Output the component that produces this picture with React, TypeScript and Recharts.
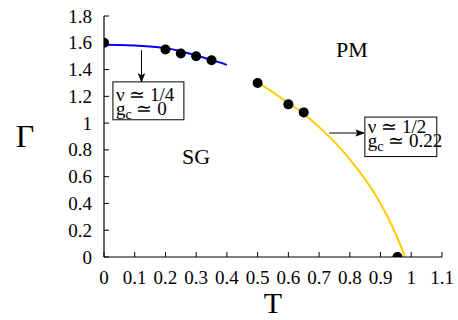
import React from 'react';
import {
  ComposedChart,
  Line,
  Scatter,
  XAxis,
  YAxis,
  ReferenceArea,
  ReferenceLine,
  ReferenceDot,
  Label,
} from 'recharts';

// ---- data ----
const xTicks = [0, 0.1, 0.2, 0.3, 0.4, 0.5, 0.6, 0.7, 0.8, 0.9, 1, 1.1];
const yTicks = [0, 0.2, 0.4, 0.6, 0.8, 1, 1.2, 1.4, 1.6, 1.8];

const pointT = [0, 0.2, 0.25, 0.3, 0.35, 0.5, 0.6, 0.65, 0.955];
const pointGamma = [1.6, 1.55, 1.52, 1.5, 1.47, 1.3, 1.14, 1.08, 0];

const lowCurveT = [0, 0.05, 0.1, 0.15, 0.2, 0.25, 0.3, 0.35, 0.4];
const lowCurveGamma = [1.585, 1.584, 1.58, 1.572, 1.56, 1.537, 1.505, 1.472, 1.435];

const highCurveT = [0.5, 0.55, 0.6, 0.65, 0.7, 0.75, 0.8, 0.85, 0.9, 0.95, 0.98];
const highCurveGamma = [1.305, 1.23, 1.15, 1.07, 0.97, 0.86, 0.73, 0.58, 0.4, 0.17, 0];

const pointsData = pointT.map((T, i) => ({ T, G: pointGamma[i] }));
const lowData = lowCurveT.map((T, i) => ({ T, G: lowCurveGamma[i] }));
const highData = highCurveT.map((T, i) => ({ T, G: highCurveGamma[i] }));

// ---- styles ----
const FONT = 'Liberation Serif, Times New Roman, serif';

const XTick = (p: any) => (
  <text
    x={p.x}
    y={p.y}
    dy={13}
    textAnchor="middle"
    fontFamily={FONT}
    fontSize={19}
    fill="#000"
  >
    {String(p.payload.value)}
  </text>
);

const YTick = (p: any) => (
  <text
    x={p.x}
    y={p.y}
    dy={6.5}
    textAnchor="end"
    fontFamily={FONT}
    fontSize={19}
    fill="#000"
  >
    {String(p.payload.value)}
  </text>
);

const EmptyTick = () => <g />;

const Dot = (p: any) => <circle cx={p.cx} cy={p.cy} r={5} fill="#000" />;

const makeArrow = (dir: 'down' | 'right') => (p: any) => {
  const { x1, y1, x2, y2 } = p;
  const head =
    dir === 'down'
      ? `M${x2},${y2} L${x2 - 3},${y2 - 8} L${x2},${y2 - 6} L${x2 + 3},${y2 - 8} Z`
      : `M${x2},${y2} L${x2 - 8},${y2 - 3} L${x2 - 6},${y2} L${x2 - 8},${y2 + 3} Z`;
  return (
    <g>
      <line x1={x1} y1={y1} x2={x2} y2={y2} stroke="#000" strokeWidth={1} />
      <path d={head} fill="#000" stroke="#000" strokeWidth={0.8} />
    </g>
  );
};

const makeBox = (nuText: string, gText: string, line1: number, line2: number) => (p: any) => {
  const { x, y, width, height } = p;
  return (
    <g>
      <rect x={x} y={y} width={width} height={height} fill="#fff" stroke="#000" strokeWidth={1} />
      <text fontFamily={FONT} fontSize={19} fill="#000">
        <tspan x={x + 3} y={y + line1}>{nuText}</tspan>
        <tspan x={x + 3} y={y + line2}>g</tspan>
        <tspan fontSize={14} dy={4}>c</tspan>
        <tspan dy={-4}>{' ' + gText}</tspan>
      </text>
    </g>
  );
};

const makeWord = (word: string) => (p: any) => (
  <text
    x={p.cx}
    y={p.cy}
    textAnchor="middle"
    dominantBaseline="central"
    fontFamily={FONT}
    fontSize={22}
    fill="#000"
  >
    {word}
  </text>
);

export default function App() {
  return (
    <div style={{ position: 'absolute', left: 0, top: 0, width: 458, height: 320, background: '#fff' }}>
      <ComposedChart width={458} height={320} margin={{ top: 16, right: 16, left: 0, bottom: 0 }}>
        <XAxis
          xAxisId="b"
          type="number"
          dataKey="T"
          domain={[0, 1.1]}
          ticks={xTicks}
          interval={0}
          height={63}
          tickSize={-5}
          tickMargin={19}
          tick={XTick}
          axisLine={{ stroke: '#000', strokeWidth: 1.2 }}
          tickLine={{ stroke: '#000' }}
          allowDataOverflow
        >
          <Label
            content={() => (
              <text x={273} y={313} textAnchor="middle" fontFamily={FONT} fontSize={30} fill="#000">
                T
              </text>
            )}
          />
        </XAxis>
        <XAxis
          xAxisId="t"
          orientation="top"
          type="number"
          domain={[0, 1.1]}
          ticks={xTicks}
          interval={0}
          height={0}
          tickSize={-5}
          tick={EmptyTick}
          axisLine={{ stroke: '#000', strokeWidth: 1.2 }}
          tickLine={{ stroke: '#000' }}
          allowDataOverflow
        />
        <YAxis
          yAxisId="l"
          type="number"
          domain={[0, 1.8]}
          ticks={yTicks}
          interval={0}
          width={104}
          tickSize={-5}
          tickMargin={17}
          tick={YTick}
          axisLine={{ stroke: '#000', strokeWidth: 1.2 }}
          tickLine={{ stroke: '#000' }}
          allowDataOverflow
        >
          <Label
            content={() => (
              <text x={25} y={147} textAnchor="middle" fontFamily={FONT} fontSize={32} fill="#000">
                Γ
              </text>
            )}
          />
        </YAxis>
        <YAxis
          yAxisId="r"
          orientation="right"
          type="number"
          domain={[0, 1.8]}
          ticks={yTicks}
          interval={0}
          width={0}
          tickSize={-5}
          tick={EmptyTick}
          axisLine={{ stroke: '#000', strokeWidth: 1.2 }}
          tickLine={{ stroke: '#000' }}
          allowDataOverflow
        />

        <Scatter
          xAxisId="b"
          yAxisId="l"
          data={pointsData}
          dataKey="G"
          shape={Dot}
          isAnimationActive={false}
        />
        <Line
          xAxisId="b"
          yAxisId="l"
          data={lowData}
          dataKey="G"
          type="monotone"
          stroke="#0000ff"
          strokeWidth={2}
          dot={false}
          activeDot={false}
          isAnimationActive={false}
        />
        <Line
          xAxisId="b"
          yAxisId="l"
          data={highData}
          dataKey="G"
          type="monotone"
          stroke="#ffcc00"
          strokeWidth={2}
          dot={false}
          activeDot={false}
          isAnimationActive={false}
        />

        <ReferenceLine
          xAxisId="b"
          yAxisId="l"
          segment={[{ x: 0.122, y: 1.545 }, { x: 0.122, y: 1.308 }]}
          shape={makeArrow('down')}
        />
        <ReferenceArea
          xAxisId="b"
          yAxisId="l"
          x1={0.029}
          x2={0.26}
          y1={1.025}
          y2={1.308}
          shape={makeBox('ν ≃ 1/4', '≃ 0', 19.5, 33.5)}
        />
        <ReferenceLine
          xAxisId="b"
          yAxisId="l"
          segment={[{ x: 0.733, y: 0.926 }, { x: 0.846, y: 0.926 }]}
          shape={makeArrow('right')}
        />
        <ReferenceArea
          xAxisId="b"
          yAxisId="l"
          x1={0.849}
          x2={1.083}
          y1={0.75}
          y2={1.045}
          shape={makeBox('ν ≃ 1/2', '≃ 0.22', 16, 30)}
        />

        <ReferenceDot xAxisId="b" yAxisId="l" x={0.807} y={1.55} r={0} shape={makeWord('PM')} />
        <ReferenceDot xAxisId="b" yAxisId="l" x={0.3} y={0.75} r={0} shape={makeWord('SG')} />
      </ComposedChart>
    </div>
  );
}
